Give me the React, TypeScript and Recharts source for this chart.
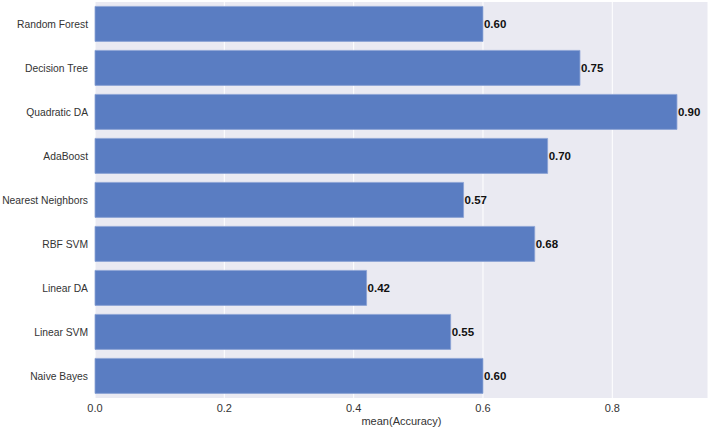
import { BarChart, Bar, XAxis, YAxis, CartesianGrid, LabelList } from "recharts";

const CLASSIFIERS = [
  "Random Forest",
  "Decision Tree",
  "Quadratic DA",
  "AdaBoost",
  "Nearest Neighbors",
  "RBF SVM",
  "Linear DA",
  "Linear SVM",
  "Naive Bayes",
];
const ACCURACY = [0.6, 0.75, 0.9, 0.7, 0.57, 0.68, 0.42, 0.55, 0.6];
const X_TICKS = [0, 0.2, 0.4, 0.6, 0.8];

const rows = CLASSIFIERS.map((name, i) => ({ name, accuracy: ACCURACY[i] }));

const FONT = "'Liberation Sans', Arial, sans-serif";

function NameTick({ x, y, payload }: { x?: number; y?: number; payload?: { value: string } }) {
  return (
    <text x={(x ?? 0) + 1} y={y} dy={4} textAnchor="end" fill="#333" fontSize={10.3} fontFamily={FONT}>
      {payload?.value}
    </text>
  );
}

export default function App() {
  return (
    <div style={{ position: "absolute", left: 0, top: 0, width: 709, height: 427, background: "#fff", fontFamily: FONT }}>
      <BarChart
        width={709}
        height={427}
        data={rows}
        layout="vertical"
        margin={{ top: 2, right: 1, left: 0, bottom: 0 }}
        barCategoryGap="10%"
      >
        <CartesianGrid stroke="#ffffff" strokeWidth={1} horizontal={false} fill="#EAEAF2" fillOpacity={1} />
        <XAxis
          type="number"
          domain={[0, 0.948]}
          ticks={X_TICKS}
          tickFormatter={(v: number) => v.toFixed(1)}
          axisLine={false}
          tickLine={false}
          height={29}
          tick={{ fill: "#333", fontSize: 11, fontFamily: FONT }}
          tickMargin={0}
          label={{ value: "mean(Accuracy)", position: "insideBottom", offset: 2, fill: "#333", fontSize: 11, fontFamily: FONT }}
        />
        <YAxis
          type="category"
          dataKey="name"
          width={95}
          axisLine={false}
          tickLine={false}
          tick={<NameTick />}
        />
        <Bar dataKey="accuracy" fill="#5A7DC2" stroke="#8aa2d4" strokeWidth={0.8} isAnimationActive={false}>
          <LabelList
            dataKey="accuracy"
            position="right"
            offset={1}
            formatter={(v: number) => v.toFixed(2)}
            style={{ fill: "#111", fontSize: 11.5, fontWeight: "bold", fontFamily: FONT }}
          />
        </Bar>
      </BarChart>
    </div>
  );
}
